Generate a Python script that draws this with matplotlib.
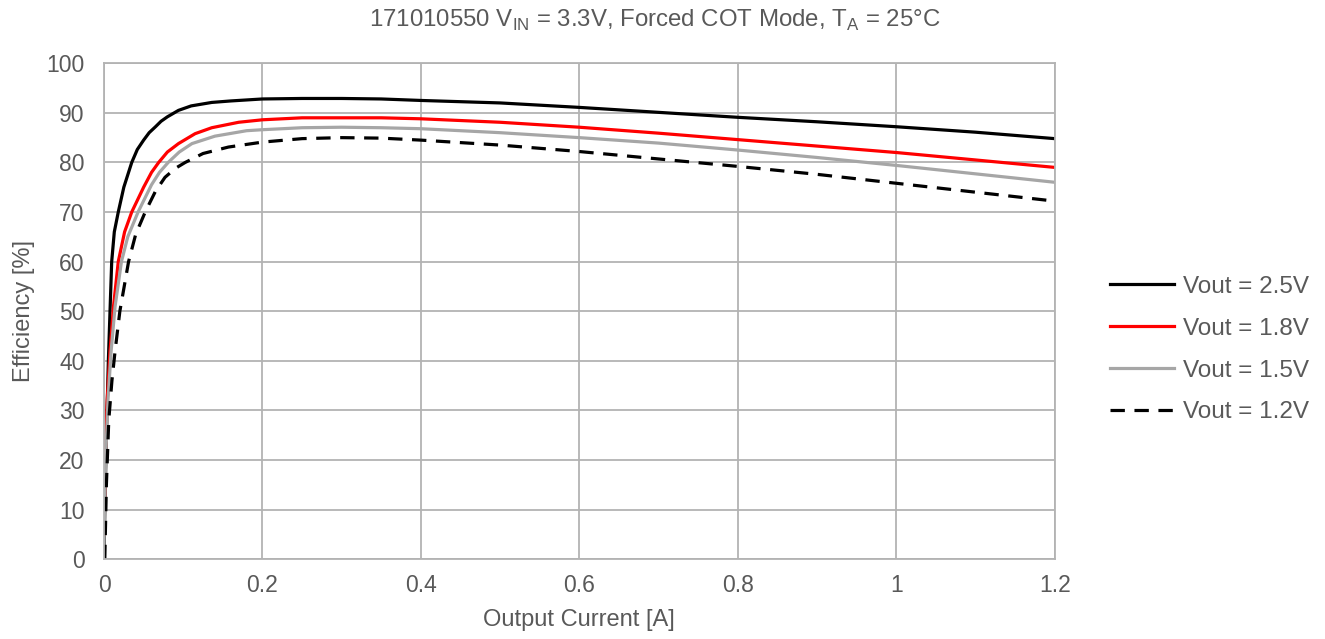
import matplotlib
matplotlib.use('Agg')
import matplotlib.pyplot as plt

plt.rcParams['font.family'] = ['Liberation Sans', 'DejaVu Sans']
plt.rcParams['mathtext.fontset'] = 'custom'
plt.rcParams['mathtext.rm'] = 'Liberation Sans'

# Output current [A] / efficiency [%]
i_25 = [0, 0.001, 0.003, 0.0055, 0.008, 0.0097, 0.013, 0.018, 0.025, 0.035, 0.042, 0.05, 0.057, 0.065, 0.072, 0.08,
        0.094, 0.11, 0.136, 0.16, 0.2, 0.25, 0.3, 0.35, 0.4, 0.5, 0.6, 0.7, 0.8, 0.9, 1.0, 1.1, 1.2]
e_25 = [0, 10, 25, 40, 52, 60, 66, 70, 75, 80, 82.6, 84.5, 86.0, 87.2, 88.3, 89.2,
        90.5, 91.4, 92.1, 92.4, 92.8, 92.9, 92.9, 92.8, 92.5, 92.0, 91.1, 90.1, 89.1, 88.2, 87.2, 86.1, 84.8]

i_18 = [0, 0.002, 0.004, 0.0076, 0.012, 0.018, 0.026, 0.035, 0.05, 0.06, 0.069, 0.08, 0.094, 0.115, 0.136,
        0.17, 0.2, 0.25, 0.3, 0.35, 0.4, 0.5, 0.6, 0.7, 0.8, 0.9, 1.0, 1.1, 1.2]
e_18 = [5, 22, 32, 42, 51, 60, 66, 70, 75, 78, 80, 82.1, 83.8, 85.8, 87,
        88.1, 88.6, 89, 89, 89, 88.8, 88.1, 87.1, 85.9, 84.6, 83.3, 82.0, 80.5, 79.0]

i_15 = [0, 0.002, 0.005, 0.009, 0.014, 0.022, 0.03, 0.043, 0.06, 0.07, 0.081, 0.095, 0.111, 0.14, 0.18,
        0.2, 0.25, 0.3, 0.35, 0.4, 0.5, 0.6, 0.7, 0.8, 0.9, 1.0, 1.1, 1.2]
e_15 = [3, 20, 32, 42, 51, 60, 65, 70, 75.5, 78, 80, 82.1, 83.8, 85.3, 86.4,
        86.6, 87, 87.1, 87, 86.8, 86.0, 85.0, 83.9, 82.5, 81.0, 79.4, 77.7, 76.0]

i_12 = [0.001, 0.003, 0.006, 0.01, 0.014, 0.02, 0.031, 0.04, 0.052, 0.065, 0.077, 0.09, 0.1025, 0.125, 0.157,
        0.2, 0.25, 0.3, 0.35, 0.4, 0.5, 0.6, 0.7, 0.8, 0.9, 1.0, 1.1, 1.2]
e_12 = [0, 15, 28, 36, 42, 50, 60, 65.5, 70, 74.2, 77, 78.8, 80, 81.8, 83.1,
        84.1, 84.8, 85, 84.9, 84.5, 83.5, 82.2, 80.7, 79.2, 77.6, 75.8, 74.0, 72.2]

txt = '#595959'
grid_c = '#b3b3b3'

fig = plt.figure(figsize=(13.25, 6.39), dpi=100)
ax = fig.add_axes([0.0785, 0.125, 0.7175, 0.776])

lw = 2.3
ax.plot(i_25, e_25, color='black', lw=lw, label='Vout = 2.5V')
ax.plot(i_18, e_18, color='#ff0000', lw=lw, label='Vout = 1.8V')
ax.plot(i_15, e_15, color='#a6a6a6', lw=lw, label='Vout = 1.5V')
ax.plot(i_12, e_12, color='black', lw=lw, dashes=(4.5, 3), label='Vout = 1.2V')

ax.set_xlim(0, 1.2)
ax.set_ylim(0, 100)
ax.set_xticks([0, 0.2, 0.4, 0.6, 0.8, 1.0, 1.2])
ax.set_xticklabels(['0', '0.2', '0.4', '0.6', '0.8', '1', '1.2'])
ax.set_yticks(range(0, 101, 10))
ax.tick_params(length=0, labelsize=16.5, labelcolor=txt)
ax.tick_params(axis='y', pad=14)
ax.tick_params(axis='x', pad=11)
ax.grid(True, color=grid_c, lw=1.3)
ax.set_axisbelow(True)
for s in ax.spines.values():
    s.set_color(grid_c)
    s.set_linewidth(1.3)

ax.set_xlabel('Output Current [A]', fontsize=17, color=txt, labelpad=8)
ax.set_ylabel('Efficiency [%]', fontsize=17, color=txt, labelpad=8)

fig.text(0.494, 0.968, r'171010550 V$_{\mathregular{IN}}$ = 3.3V, Forced COT Mode, T$_{\mathregular{A}}$ = 25°C',
         ha='center', va='center', fontsize=17.3, color=txt)

leg = fig.legend(loc='center left', bbox_to_anchor=(0.838, 0.453), frameon=False, fontsize=17.5,
                 handlelength=2.6, handletextpad=0.4, labelspacing=0.82, borderpad=0, borderaxespad=0)
for t in leg.get_texts():
    t.set_color(txt)

fig.savefig('out.png', dpi=100, facecolor='white')
